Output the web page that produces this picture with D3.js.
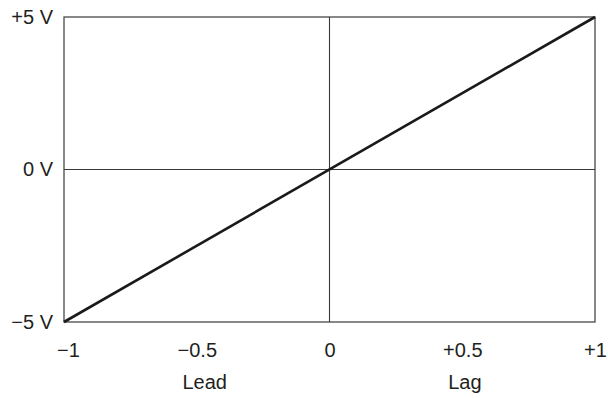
<!DOCTYPE html>
<html>
<head>
<meta charset="utf-8">
<script src="https://cdn.jsdelivr.net/npm/d3@7/dist/d3.min.js"></script>
<style>
  html, body { margin: 0; padding: 0; background: #fff; }
  svg { display: block; }
  text { font-family: "Liberation Sans", Arial, sans-serif; fill: #231f20; }
</style>
</head>
<body>
<svg id="chart" width="608" height="398"></svg>
<script>
// Phase offset (lead/lag) against output voltage
const phaseTicks = [-1, -0.5, 0, 0.5, 1];
const phaseTickLabels = ["\u22121", "\u22120.5", "0", "+0.5", "+1"];
const voltTicks = [-5, 0, 5];
const voltTickLabels = ["\u22125 V", "0 V", "+5 V"];
const responsePhase = [-1, 1];
const responseVolts = [-5, 5];
const sideNames = ["Lead", "Lag"];
const sidePhase = [-0.47, 0.51];

const svg = d3.select("#chart");
const margin = { left: 64, right: 13, top: 17, bottom: 76 };
const W = 608, H = 398;
const fontSize = 20;

const x = d3.scaleLinear().domain([-1, 1]).range([margin.left, W - margin.right]);
const y = d3.scaleLinear().domain([-5, 5]).range([H - margin.bottom, margin.top]);

const frame = "#3a3a3a";

// zero reference lines
svg.append("line")
  .attr("x1", x(0)).attr("x2", x(0))
  .attr("y1", y(5)).attr("y2", y(-5))
  .attr("stroke", frame).attr("stroke-width", 1.1);
svg.append("line")
  .attr("x1", x(-1)).attr("x2", x(1))
  .attr("y1", y(0)).attr("y2", y(0))
  .attr("stroke", frame).attr("stroke-width", 1.1);

// plot frame
svg.append("rect")
  .attr("x", x(-1)).attr("y", y(5))
  .attr("width", x(1) - x(-1)).attr("height", y(-5) - y(5))
  .attr("fill", "none").attr("stroke", frame).attr("stroke-width", 1.2);

// response line
const pts = responsePhase.map((p, i) => [p, responseVolts[i]]);
svg.append("path")
  .datum(pts)
  .attr("d", d3.line().x(d => x(d[0])).y(d => y(d[1])))
  .attr("fill", "none").attr("stroke", "#1a1a1a").attr("stroke-width", 2.6);

// x axis labels
const xAxis = d3.axisBottom(x)
  .tickValues(phaseTicks)
  .tickFormat((d, i) => phaseTickLabels[i])
  .tickSize(0).tickPadding(21);
const gx = svg.append("g").attr("transform", `translate(0,${y(-5)})`).call(xAxis);
gx.select(".domain").remove();
gx.attr("font-size", fontSize).attr("font-family", null);
gx.selectAll("text").style("fill", "#231f20")
  .attr("dx", d => d === -1 ? 4 : 0);

// y axis labels
const yAxis = d3.axisLeft(y)
  .tickValues(voltTicks)
  .tickFormat((d, i) => voltTickLabels[i])
  .tickSize(0).tickPadding(11);
const gy = svg.append("g").attr("transform", `translate(${x(-1)},0)`).call(yAxis);
gy.select(".domain").remove();
gy.attr("font-size", fontSize).attr("font-family", null);
gy.selectAll("text").style("fill", "#231f20");

// lead / lag captions
svg.selectAll(".side")
  .data(sideNames)
  .enter().append("text")
  .attr("class", "side")
  .attr("x", (d, i) => x(sidePhase[i]))
  .attr("y", 389)
  .attr("text-anchor", "middle")
  .attr("font-size", fontSize)
  .text(d => d);
</script>
</body>
</html>
